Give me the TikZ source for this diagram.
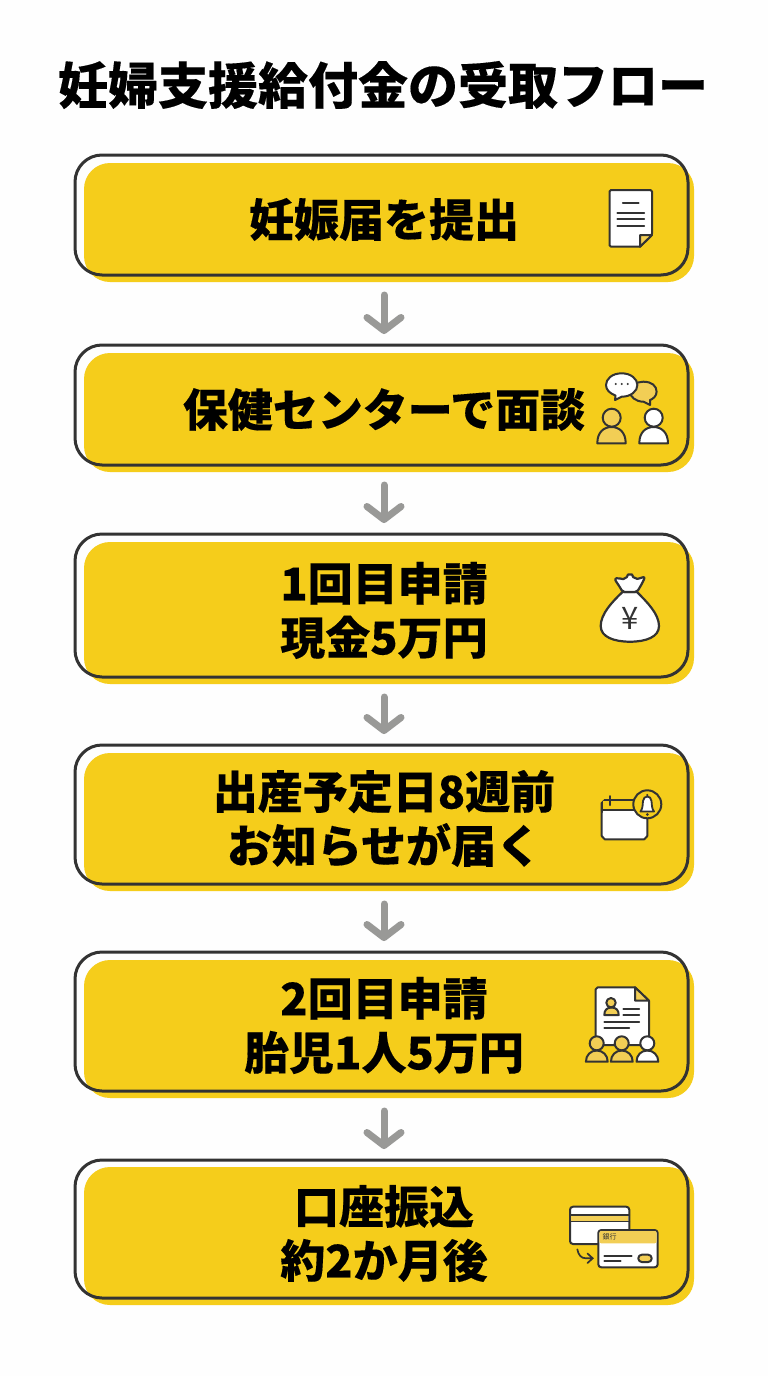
\documentclass[tikz,border=0pt]{standalone}
\usepackage{fontspec}
\usetikzlibrary{arrows.meta}
\newfontfamily\jp{Noto Sans CJK JP}[BoldFeatures={FakeBold=0.25}]
\newfontfamily\jpplain{Noto Sans CJK JP}
\definecolor{boxyel}{HTML}{F5CD1B}
\definecolor{softyel}{HTML}{F2CE55}
\definecolor{ink}{HTML}{333333}
\definecolor{arrowgray}{HTML}{999997}
\definecolor{paper}{HTML}{FEFEFE}
\tikzset{
  outlinebox/.style={draw=ink,line width=3pt,rounded corners=27pt,minimum width=613pt,inner sep=0pt,outer sep=0pt},
  fillbox/.style={fill=boxyel,rounded corners=26pt,minimum width=610pt,inner sep=0pt,outer sep=0pt},
  label/.style={font=\jp\bfseries\fontsize{45}{54}\selectfont,align=center,text=black,inner sep=0pt},
  flowarrow/.style={draw=arrowgray,line width=7pt,line cap=round,shorten <=20pt,shorten >=11pt,-{Straight Barb[round,length=13pt,width=34pt,line width=7pt]}},
  icon/.style={draw=ink,line width=2pt,line join=round,line cap=round},
  thin icon/.style={draw=ink,line width=1.7pt,line cap=round},
}
\begin{document}
\begin{tikzpicture}[x=1pt,y=-1pt]
\useasboundingbox (0,0) rectangle (768,1376);
\fill[paper] (0,0) rectangle (768,1376);
\node[font=\jp\bfseries\fontsize{50}{55}\selectfont,inner sep=0pt] (title) at (383,85) {妊婦支援給付金の受取フロー};
% fills
\node[fillbox,minimum height=119pt] (f1) at (389,222.5) {};
\node[fillbox,minimum height=119pt] (f2) at (389,412.5) {};
\node[fillbox,minimum height=142pt] (f3) at (389,613) {};
\node[fillbox,minimum height=138pt] (f4) at (389,822) {};
\node[fillbox,minimum height=138pt] (f5) at (389,1029) {};
\node[fillbox,minimum height=138pt] (f6) at (389,1236) {};
% outlines
\node[outlinebox,minimum height=120pt] (b1) at (381.5,215) {};
\node[outlinebox,minimum height=120pt] (b2) at (381.5,405) {};
\node[outlinebox,minimum height=143pt] (b3) at (381.5,605.5) {};
\node[outlinebox,minimum height=139pt] (b4) at (381.5,814.5) {};
\node[outlinebox,minimum height=139pt] (b5) at (381.5,1021.5) {};
\node[outlinebox,minimum height=138pt] (b6) at (381.5,1229) {};
% labels
\node[label] (t1) at (384,219.5) {妊娠届を提出};
\node[label] (t2) at (384,409.5) {保健センターで面談};
\node[label] (t3) at (384,610.5) {1回目申請\\現金5万円};
\node[label] (t4) at (384,818.5) {出産予定日8週前\\お知らせが届く};
\node[label] (t5) at (384,1025.5) {2回目申請\\胎児1人5万円};
\node[label] (t6) at (384,1233.5) {口座振込\\約2か月後};
% arrows
\foreach \a/\c in {b1/b2,b2/b3,b3/b4,b4/b5,b5/b6}{
  \draw[flowarrow] ([xshift=2.5pt]\a.south) -- ([xshift=2.5pt]\c.north);
}
% icon 1: document
\draw[icon,fill=white,rounded corners=1.5pt] (609.5,190) -- (652,190) -- (652,235) [sharp corners] -- (640,246.7) [rounded corners=1.5pt] -- (609.5,246.7) -- cycle;
\draw[icon,fill=softyel] (652,235) -- (640,235) -- (640,246.7) -- cycle;
\draw[thin icon] (622.7,202.7) -- (638.7,202.7) (617.3,213.3) -- (644.3,213.3) (617.3,219.3) -- (644.3,219.3) (617.3,225.7) -- (644.3,225.7);
% icon 2: interview
\draw[icon,fill=softyel] (643.3,381.7) .. controls (652,381.7) and (656.6,386) .. (656.6,391.7) .. controls (656.6,396) and (653,399) .. (650,400) -- (650,405) -- (643.5,401.7) .. controls (636,401.7) and (630,397) .. (630,391.7) .. controls (630,386) and (636,381.7) .. (643.3,381.7) -- cycle;
\draw[icon,fill=white] (621.7,373.3) .. controls (631,373.3) and (637.4,379) .. (637.4,385) .. controls (637.4,391) and (631,396.7) .. (621.7,396.7) -- (615,400) -- (615.5,395.5) .. controls (610,393.5) and (606,390) .. (606,385) .. controls (606,379) and (612,373.3) .. (621.7,373.3) -- cycle;
\fill[ink] (615.7,384) circle[radius=1.2pt] (621.7,384) circle[radius=1.2pt] (627.7,384) circle[radius=1.2pt];
\draw[icon,fill=softyel] (597.3,443.3) .. controls (597.3,432) and (604,427) .. (611.5,427) .. controls (619,427) and (625.7,432) .. (625.7,443.3) -- cycle;
\draw[icon,fill=softyel] (611.7,417.7) circle[radius=9pt];
\draw[icon,fill=white] (639.3,443.3) .. controls (639.3,432) and (646,427) .. (653.6,427) .. controls (661,427) and (668,432) .. (668,443.3) -- cycle;
\draw[icon,fill=white] (653.7,417.7) circle[radius=9pt];
% icon 3: money bag
\draw[icon,fill=white,line width=2.2pt] (622.5,592) .. controls (612,602) and (600.7,614) .. (600.7,626) .. controls (600.7,637) and (614,641.7) .. (630,641.7) .. controls (646,641.7) and (659,637) .. (659,626) .. controls (659,614) and (647,602) .. (637,592) -- cycle;
\draw[icon,fill=white,line width=2.2pt,rounded corners=2pt] (622.5,592) .. controls (620,587) and (617,583) .. (614.5,578.8) .. controls (619,577.5) and (622,579.5) .. (625,578.5) .. controls (627,577) and (628,574.5) .. (630,574) .. controls (632,574.5) and (633,577) .. (635,578.3) .. controls (638,579) and (642,577.5) .. (645,576.7) .. controls (643,582) and (640,587) .. (637,592) -- cycle;
\node[font=\jpplain\fontsize{31}{31}\selectfont,text=ink,inner sep=0pt] (yen) at (630,618.5) {¥};
% icon 4: calendar with bell
\draw[icon,fill=white] (605,800) -- (645,800) -- (647.3,802) -- (647.3,836) -- (644.3,839.3) -- (604.7,839.3) -- (601.7,836) -- (601.7,803) -- cycle;
\fill[boxyel] (603,801) rectangle (646.3,809.5);
\draw[icon] (601.7,810) -- (647.3,810);
\draw[icon] (604.7,800) -- (646,800) (601.7,803) -- (601.7,812) (610,796) -- (610,805);
\draw[icon,fill=boxyel] (647.3,804.3) circle[radius=14pt];
\draw[icon,fill=white,line width=1.8pt] (640.5,811.5) .. controls (643,808) and (642.5,805) .. (643,801) .. controls (643.5,798) and (645,796.5) .. (647.3,796.5) .. controls (649.6,796.5) and (651,798) .. (651.5,801) .. controls (652,805) and (651.5,808) .. (654,811.5) -- cycle;
\fill[ink] (647.3,814.5) circle[radius=1.5pt] (647.3,795) circle[radius=1.2pt];
% icon 5: document and people
\draw[icon,fill=white] (597.7,987.3) -- (635,987.3) -- (649,1000.7) -- (649,1045) -- (595.7,1045) -- (595.7,989.3) -- cycle;
\draw[icon,fill=softyel] (635,987.3) -- (649,1000.7) -- (635,1000.7) -- cycle;
\draw[icon,fill=softyel] (604.3,1015) .. controls (604.3,1010) and (607,1007.5) .. (611.5,1007.5) .. controls (616,1007.5) and (618.7,1010) .. (618.7,1015) -- cycle;
\draw[icon,fill=softyel] (611,1002.7) circle[radius=4.7pt];
\draw[thin icon] (623.3,1009.3) -- (639.3,1009.3) (623.3,1015) -- (639.3,1015) (604.3,1021.7) -- (639.3,1021.7) (604.3,1027.7) -- (629.3,1027.7);
\foreach \cx/\cl in {596.7/softyel,621.7/softyel,647.3/white}{
  \draw[icon,fill=\cl] (\cx-10.8,1061.7) .. controls (\cx-10.8,1055) and (\cx-6,1050.5) .. (\cx,1050.5) .. controls (\cx+6,1050.5) and (\cx+11,1055) .. (\cx+11,1061.7) -- cycle;
  \draw[icon,fill=\cl] (\cx,1043.3) circle[radius=7pt];
}
% icon 6: cards
\draw[icon,fill=white,rounded corners=3pt] (570,1206.7) rectangle (629.3,1244);
\fill[softyel] (571,1215) rectangle (628.3,1221.7);
\draw[thin icon,line width=1.5pt] (570,1215) -- (629.3,1215) (570,1221.7) -- (629.3,1221.7);
\draw[icon,fill=white,rounded corners=3pt] (598.3,1230) rectangle (657.7,1267.3);
\fill[softyel,rounded corners=2pt] (599.3,1231) rectangle (656.7,1243.3);
\node[font=\jpplain\fontsize{7}{7}\selectfont,text=ink,inner sep=0pt] (bank) at (609.5,1237.2) {銀行};
\draw[thin icon] (604.3,1256) -- (631.7,1256) (604.3,1261) -- (620.7,1261);
\draw[icon,fill=softyel,rounded corners=3.5pt] (638.3,1254.7) rectangle (651.7,1262);
\draw[thin icon] (577.3,1249.3) .. controls (578.5,1255) and (581,1258.3) .. (586,1258.3) -- (592.7,1258.3) (587.5,1253.5) -- (592.7,1258.3) -- (587.5,1263);
\end{tikzpicture}
\end{document}
